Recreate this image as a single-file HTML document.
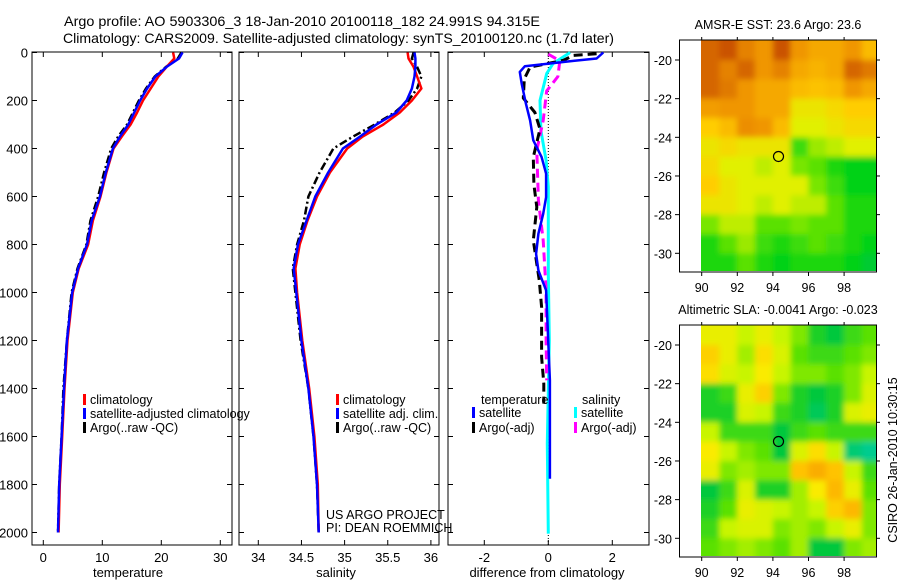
<!DOCTYPE html>
<html><head><meta charset="utf-8">
<style>
html,body{margin:0;padding:0;background:#fff;}
svg{display:block;font-family:"Liberation Sans",sans-serif;}
</style></head>
<body>
<svg id="fig" width="900" height="580" viewBox="0 0 900 580">
<defs>
<clipPath id="c1"><rect x="701" y="40" width="175" height="231"/></clipPath>
<clipPath id="c2"><rect x="701" y="325" width="175" height="231"/></clipPath>
<filter id="bl" x="0" y="0" width="1" height="1"><feGaussianBlur stdDeviation="3"/></filter>
</defs>
<text x="64" y="26" font-size="14" textLength="476" lengthAdjust="spacingAndGlyphs">Argo profile: AO 5903306_3 18-Jan-2010 20100118_182 24.991S 94.315E</text>
<text x="63" y="43" font-size="14" textLength="551" lengthAdjust="spacingAndGlyphs">Climatology: CARS2009. Satellite-adjusted climatology: synTS_20100120.nc (1.7d later)</text>
<g id="g"></g>
</svg>
<script>
// ---------- data ----------
const depthLevels = [0,25,60,100,150,200,250,300,350,400,500,600,700,800,900,1000,1200,1400,1600,1800,2000];
const tempClim = [22.0,22.2,20.9,19.5,18.2,16.9,15.9,14.8,13.3,11.9,10.7,9.7,8.4,7.6,6.0,5.0,4.1,3.6,3.2,2.8,2.6];
const tempSat  = [23.6,23.0,20.9,19.0,17.6,16.4,15.4,14.4,13.0,11.8,10.6,9.6,8.2,7.4,5.9,4.9,4.0,3.5,3.1,2.7,2.5];
const tempArgo = [23.4,22.8,20.8,18.9,17.4,16.2,15.2,14.2,12.7,11.5,10.3,9.3,8.0,7.3,5.8,4.8,4.0,3.4,3.1,2.7,2.5];
const salClim = [35.73,35.74,35.80,35.84,35.89,35.78,35.64,35.45,35.21,35.03,34.83,34.68,34.57,34.48,34.43,34.45,34.51,34.59,34.65,34.69,34.70];
const salSat  = [35.81,35.82,35.82,35.81,35.78,35.72,35.60,35.37,35.18,34.98,34.81,34.66,34.56,34.46,34.41,34.44,34.50,34.58,34.64,34.68,34.70];
const salArgo = [35.80,35.78,35.84,35.89,35.84,35.74,35.58,35.35,35.10,34.87,34.71,34.58,34.53,34.45,34.40,34.43,34.49,34.58,34.64,34.68,34.70];
const dTsatDepth = [0,25,35,46,57,81,130,213,283,366,436,505,603,672,755,839,908,991,1366,1776];
const dTsat = [1.72,1.51,0.78,0.05,-0.73,-0.89,-0.83,-0.70,-0.57,-0.47,-0.21,-0.07,-0.07,-0.16,-0.31,-0.38,-0.31,-0.07,0.05,0.05];
const dTargoDepth = [5,12,33,61,110,190,250,319,436,550,644,783,950,1061,1269,1380,1463];
const dTargo = [1.51,0.78,0.47,-0.57,-0.75,-0.78,-0.42,-0.26,-0.47,-0.45,-0.36,-0.47,-0.28,-0.21,-0.21,-0.14,-0.14];
const dSsatDepth = [0,46,88,200,325,450,560,922,1200,1630,2005];
const dSsat = [0.68,0.15,-0.05,-0.26,-0.23,-0.07,0.0,0.0,0.03,-0.03,0.0];
const dSargoDepth = [7,35,100,160,283,408,616,783,991,1200,1366];
const dSargo = [0.0,0.36,0.30,-0.05,-0.16,-0.36,-0.31,-0.16,-0.07,-0.07,-0.05];
const depthTicks = [0,200,400,600,800,1000,1200,1400,1600,1800,2000];
const tempTicks = [0,10,20,30];
const salTicks = [34,34.5,35,35.5,36];
const diffTicks = [-2,0,2];
const latTicks = [-20,-22,-24,-26,-28,-30];
const lonTicks = [90,92,94,96,98];
const sstGrid = [
[0.92,0.97,0.85,0.8,0.97,0.8,0.75,0.75,0.8,0.7],
[0.92,0.85,0.92,0.8,0.85,0.75,0.72,0.75,0.92,0.87],
[0.92,0.87,0.8,0.75,0.75,0.7,0.68,0.7,0.8,0.75],
[0.78,0.8,0.8,0.75,0.75,0.55,0.55,0.6,0.65,0.65],
[0.65,0.7,0.82,0.8,0.7,0.5,0.5,0.55,0.6,0.6],
[0.55,0.6,0.55,0.55,0.55,0.25,0.4,0.45,0.5,0.5],
[0.6,0.5,0.5,0.45,0.5,0.35,0.3,0.2,0.15,0.15],
[0.65,0.55,0.5,0.5,0.5,0.5,0.35,0.25,0.15,0.15],
[0.55,0.55,0.5,0.45,0.5,0.45,0.45,0.3,0.2,0.2],
[0.35,0.45,0.45,0.3,0.3,0.35,0.3,0.3,0.2,0.2],
[0.2,0.3,0.4,0.25,0.2,0.25,0.3,0.25,0.2,0.15],
[0.2,0.2,0.3,0.2,0.15,0.2,0.2,0.2,0.15,0.1]];
const slaGrid = [
[0.6,0.6,0.5,0.6,0.5,0.4,0.25,0.2,0.3,0.35],
[0.75,0.6,0.45,0.7,0.55,0.35,0.3,0.3,0.35,0.4],
[0.7,0.55,0.5,0.65,0.5,0.4,0.4,0.35,0.4,0.5],
[0.25,0.3,0.6,0.75,0.4,0.25,0.2,0.25,0.4,0.55],
[0.25,0.25,0.55,0.5,0.3,0.25,0.15,0.25,0.55,0.6],
[0.5,0.3,0.3,0.3,0.2,0.3,0.35,0.3,0.3,0.3],
[0.65,0.5,0.4,0.35,0.2,0.55,0.7,0.5,0.1,0.05],
[0.6,0.4,0.45,0.4,0.4,0.8,0.9,0.8,0.5,0.3],
[0.2,0.3,0.55,0.25,0.25,0.45,0.65,0.85,0.6,0.35],
[0.25,0.35,0.6,0.55,0.5,0.45,0.5,0.75,0.85,0.4],
[0.3,0.5,0.55,0.55,0.4,0.45,0.4,0.5,0.6,0.4],
[0.35,0.4,0.45,0.4,0.35,0.45,0.2,0.2,0.4,0.45]];
const floatLon = 94.315, floatLat = -24.991;

// ---------- helpers ----------
const NS="http://www.w3.org/2000/svg";
const G=document.getElementById('g');
function mk(tag,attrs,parent){const e=document.createElementNS(NS,tag);for(const k in attrs)e.setAttribute(k,attrs[k]);(parent||G).appendChild(e);return e;}
const yD = d => 52.5 + d*0.24;
const xT = v => 43.3 + v*5.9;
const xS = v => 258.3 + (v-34)*86.3;
const xD = v => 548.3 + v*32;
function lineFrom(xs,ds,xf,stroke,w,dash,name){
  const pts=xs.map((v,i)=>xf(v).toFixed(1)+','+yD(ds[i]).toFixed(1)).join(' ');
  const p=mk('polyline',{points:pts,fill:'none',stroke:stroke,'stroke-width':w,'stroke-linejoin':'round'});
  if(dash)p.setAttribute('stroke-dasharray',dash);
  
  
}
function txt(x,y,s,opts){const t=mk('text',Object.assign({x:x,y:y,'font-size':13},opts||{}));t.textContent=s;return t;}

// ---------- panels ----------
const panels=[
 {x0:32,x1:232,ticks:tempTicks,f:xT,label:'temperature',lx:128,name:'temperature'},
 {x0:239,x1:439,ticks:salTicks,f:xS,label:'salinity',lx:336,name:'salinity'},
 {x0:448,x1:649,ticks:diffTicks,f:xD,label:'difference from climatology',lx:547,name:'difference'}];
panels.forEach(p=>{
  const r=mk('rect',{x:p.x0,y:52,width:p.x1-p.x0,height:493,fill:'none',stroke:'#000','stroke-width':1});
  
  
  p.ticks.forEach(t=>{
    const x=p.f(t);
    mk('line',{x1:x,y1:545,x2:x,y2:540,stroke:'#000'});
    mk('line',{x1:x,y1:52,x2:x,y2:57,stroke:'#000'});
    const l=txt(x,562,String(t),{'text-anchor':'middle'});
    
    
  });
  depthTicks.forEach(d=>{
    mk('line',{x1:p.x0,y1:yD(d),x2:p.x0+5,y2:yD(d),stroke:'#000'});
    mk('line',{x1:p.x1,y1:yD(d),x2:p.x1-5,y2:yD(d),stroke:'#000'});
  });
  const xl=txt(p.lx,577,p.label,{'text-anchor':'middle'});
  
  
});
depthTicks.forEach(d=>{
  const l=txt(28,yD(d)+5,String(d),{'text-anchor':'end'});
  
  
});
const zl=mk('line',{x1:xD(0),y1:52,x2:xD(0),y2:545,stroke:'#000','stroke-width':1,'stroke-dasharray':'1,2'});



lineFrom(tempArgo,depthLevels,xT,'#000',2.5,'8,3,2,3','temperature-argo-line');
lineFrom(tempClim,depthLevels,xT,'#f00',2.5,null,'temperature-climatology-line');
lineFrom(tempSat,depthLevels,xT,'#00f',2.5,null,'temperature-satellite-line');
lineFrom(salArgo,depthLevels,xS,'#000',2.5,'8,3,2,3','salinity-argo-line');
lineFrom(salClim,depthLevels,xS,'#f00',2.5,null,'salinity-climatology-line');
lineFrom(salSat,depthLevels,xS,'#00f',2.5,null,'salinity-satellite-line');
lineFrom(dSsat,dSsatDepth,xD,'#0ff',3,null,'salinity-diff-satellite-line');
lineFrom(dSargo,dSargoDepth,xD,'#f0f',3,'9,5','salinity-diff-argo-line');
lineFrom(dTargo,dTargoDepth,xD,'#000',3,'9,5','temperature-diff-argo-line');
lineFrom(dTsat,dTsatDepth,xD,'#00f',2.5,null,'temperature-diff-satellite-line');

function legend(x,y,color,label,name){
  const r=mk('rect',{x:x,y:y-10,width:3,height:11,fill:color});
  
  
  const t=txt(x+7,y,label,{'font-size':12.5});
  
  
}
legend(83,404,'#f00','climatology','temp-legend-climatology');
legend(83,418,'#00f','satellite-adjusted climatology','temp-legend-satellite');
legend(83,432,'#000','Argo(..raw -QC)','temp-legend-argo');
legend(336,404,'#f00','climatology','sal-legend-climatology');
legend(336,418,'#00f','satellite adj. clim.','sal-legend-satellite');
legend(336,432,'#000','Argo(..raw -QC)','sal-legend-argo');
let t1=txt(481,404,'temperature',{'font-size':12.5});


let t2=txt(582,404,'salinity',{'font-size':12.5});


legend(472,417,'#00f','satellite','diff-legend-temp-satellite');
legend(472,432,'#000','Argo(-adj)','diff-legend-temp-argo');
legend(574,417,'#0ff','satellite','diff-legend-sal-satellite');
legend(574,432,'#f0f','Argo(-adj)','diff-legend-sal-argo');
let c1=txt(326,519,'US ARGO PROJECT',{'font-size':12.5});


let c2=txt(326,532,'PI: DEAN ROEMMICH',{'font-size':12.5});



// ---------- maps ----------
function lerpC(stops,v){
  v=Math.max(0,Math.min(1,v));
  for(let i=1;i<stops.length;i++){
    if(v<=stops[i][0]){const a=stops[i-1],b=stops[i];const t=(v-a[0])/(b[0]-a[0]);
      return 'rgb('+[1,2,3].map(k=>Math.round(a[k]+(b[k]-a[k])*t)).join(',')+')';}
  }
  const l=stops[stops.length-1];return 'rgb('+l[1]+','+l[2]+','+l[3]+')';
}
const sstStops=[[0,0,190,110],[0.15,0,210,20],[0.35,120,230,0],[0.5,225,240,0],[0.65,255,205,0],[0.8,240,150,0],[1,195,70,0]];
const slaStops=[[0,0,205,170],[0.2,0,200,60],[0.35,90,225,0],[0.5,200,245,0],[0.65,250,235,0],[0.8,255,195,0],[1,245,150,0]];
function drawMap(top,grid,stops,clip,name,title){
  const lonX=lo=>701.7+(lo-90)*17.8;
  const latY=la=>top+20+(-20-la)*19.33;
  const grp=mk('g',{'clip-path':'url(#'+clip+')'});
  
  
  const inner=mk('g',{filter:'url(#bl)'},grp);
  grid.forEach((row,r)=>row.forEach((v,c)=>{
    const x0=lonX(90+c)-0.2, y0=latY(-19-r);
    const cell=mk('rect',{x:x0-(c==0?8:0),y:y0-(r==0?8:0),width:17.8+0.6+(c==0?8:0)+(c==9?8:0),height:19.33+0.6+(r==0?8:0)+(r==11?8:0),fill:lerpC(stops,v)},inner);
    
    
  }));
  const fr=mk('rect',{x:679.5,y:top,width:197,height:232,fill:'none',stroke:'#000'});
  
  
  latTicks.forEach(la=>{
    const y=latY(la);
    mk('line',{x1:679.5,y1:y,x2:675,y2:y,stroke:'#000'});
    mk('line',{x1:876.5,y1:y,x2:880,y2:y,stroke:'#000'});
    const l=txt(672,y+5,String(la),{'text-anchor':'end','font-size':12.5});
    
    
  });
  lonTicks.forEach(lo=>{
    const x=lonX(lo);
    mk('line',{x1:x,y1:top+232,x2:x,y2:top+236,stroke:'#000'});
    mk('line',{x1:x,y1:top,x2:x,y2:top-3,stroke:'#000'});
    const l=txt(x,top+252,String(lo),{'text-anchor':'middle','font-size':12.5});
    
    
  });
  const m=mk('circle',{cx:lonX(floatLon),cy:latY(floatLat),r:5,fill:'none',stroke:'#000','stroke-width':1.2});
  
  
  const tt=txt(778,top-11,title,{'text-anchor':'middle','font-size':12.5});
  
  
}
drawMap(40,sstGrid,sstStops,'c1','sst-map','AMSR-E SST: 23.6 Argo: 23.6');
drawMap(325,slaGrid,slaStops,'c2','sla-map','Altimetric SLA: -0.0041 Argo: -0.023');
const cs=txt(0,0,'CSIRO 26-Jan-2010 10:30:15',{'font-size':12.5,'text-anchor':'middle',transform:'translate(897,460) rotate(-90)'});


</script>
</body></html>
